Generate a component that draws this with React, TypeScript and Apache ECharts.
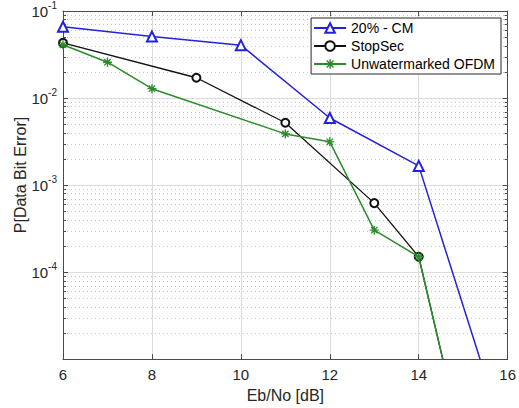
import React, { useEffect, useRef } from "react";
import * as echarts from "echarts";

// Eb/No values (dB) per series
const xCM = [6, 8, 10, 12, 14, 16];
const yCM = [0.066, 0.0508, 0.0405, 0.0059, 0.00166, 1e-6];

const xStop = [6, 9, 11, 13, 14, 15];
const yStop = [0.043, 0.0171, 0.0052, 6.2e-4, 1.5e-4, 1e-6];

const xOfdm = [6, 7, 8, 11, 12, 13, 14, 15];
const yOfdm = [0.0409, 0.0258, 0.0128, 0.00387, 0.00314, 3.03e-4, 1.5e-4, 1e-6];

const seriesNames = ["20% - CM", "StopSec", "Unwatermarked OFDM"];

// axis definitions
const xMin = 6;
const xMax = 16;
const xStep = 2;
const yMin = 1e-5;
const yMax = 1e-1;
const minorDecades = [1e-5, 1e-4, 1e-3, 1e-2];
const minorMultipliers = [2, 3, 4, 5, 6, 7, 8, 9];

const FONT = "'Liberation Sans', Arial, Helvetica, sans-serif";
const AXIS_COLOR = "#4a4a4a";
const TEXT_COLOR = "#262626";

const STAR_PATH =
  "path://M-1.5,-10 L1.5,-10 L1.5,10 L-1.5,10 Z " +
  "M-10,-1.5 L10,-1.5 L10,1.5 L-10,1.5 Z " +
  "M-6.01,-8.13 L8.13,6.01 L6.01,8.13 L-8.13,-6.01 Z " +
  "M-6.01,8.13 L-8.13,6.01 L6.01,-8.13 L8.13,-6.01 Z";

function zip(xs: number[], ys: number[]) {
  return xs.map((x, i) => [x, ys[i]]);
}

export default function App() {
  const ref = useRef<HTMLDivElement>(null);

  useEffect(() => {
    if (!ref.current) return;
    const chart = echarts.init(ref.current, null, { renderer: "svg" });

    const minorData: number[][] = [];
    minorDecades.forEach((d) =>
      minorMultipliers.forEach((m) => minorData.push([xMin, d * m]))
    );

    const yLabelFormatter = (v: number) => {
      const e = Math.round(Math.log10(v));
      if (e <= -5) return "";
      return `{b|10}{s|${e}}`;
    };

    const option: any = {
      animation: false,
      backgroundColor: "#ffffff",
      grid: { left: 63, right: 10, top: 10, bottom: 46, containLabel: false },
      legend: {
        data: seriesNames,
        orient: "vertical",
        right: 18,
        top: 18,
        backgroundColor: "#ffffff",
        borderColor: "#262626",
        borderWidth: 1,
        borderRadius: 0,
        padding: [3, 6, 3, 2],
        itemGap: 4,
        itemWidth: 32,
        itemHeight: 12,
        textStyle: { fontSize: 14, fontFamily: FONT, color: "#000" },
      },
      xAxis: [
        {
          type: "value",
          min: xMin,
          max: xMax,
          interval: xStep,
          name: "Eb/No [dB]",
          nameLocation: "middle",
          nameGap: 25,
          nameTextStyle: { fontSize: 16, fontFamily: FONT, color: TEXT_COLOR },
          axisLine: { show: true, lineStyle: { color: AXIS_COLOR, width: 1 } },
          axisTick: { show: true, inside: true, length: 5, lineStyle: { color: AXIS_COLOR } },
          axisLabel: { fontSize: 15, fontFamily: FONT, color: TEXT_COLOR, margin: 8 },
          splitLine: { show: true, lineStyle: { color: "#dcdcdc", width: 1 } },
        },
        {
          type: "value",
          position: "top",
          min: xMin,
          max: xMax,
          interval: xStep,
          axisLine: { show: true, lineStyle: { color: AXIS_COLOR, width: 1 } },
          axisTick: { show: true, inside: true, length: 5, lineStyle: { color: AXIS_COLOR } },
          axisLabel: { show: false },
          splitLine: { show: false },
        },
      ],
      yAxis: [
        {
          type: "log",
          logBase: 10,
          min: yMin,
          max: yMax,
          splitNumber: 4,
          axisLine: { show: true, lineStyle: { color: AXIS_COLOR, width: 1 } },
          axisTick: { show: true, inside: true, length: 5, lineStyle: { color: AXIS_COLOR } },
          axisLabel: {
            margin: 6,
            formatter: yLabelFormatter,
            rich: {
              b: { fontSize: 15, fontFamily: FONT, color: TEXT_COLOR },
              s: { fontSize: 10, fontFamily: FONT, color: TEXT_COLOR, padding: [0, 0, 12, 0] },
            },
          },
          splitLine: { show: true, lineStyle: { color: "#dcdcdc", width: 1 } },
        },
        {
          type: "log",
          logBase: 10,
          min: yMin,
          max: yMax,
          splitNumber: 4,
          position: "right",
          axisLine: { show: true, lineStyle: { color: AXIS_COLOR, width: 1 } },
          axisTick: { show: true, inside: true, length: 5, lineStyle: { color: AXIS_COLOR } },
          axisLabel: { show: false },
          splitLine: { show: false },
        },
      ],
      graphic: [
        {
          type: "text",
          x: 20,
          y: 175,
          rotation: Math.PI / 2,
          style: {
            text: "P[Data Bit Error]",
            fontSize: 16,
            fontFamily: FONT,
            fill: TEXT_COLOR,
            textAlign: "center",
            textVerticalAlign: "middle",
          },
        },
      ],
      series: [
        {
          name: "minor-grid",
          type: "custom",
          silent: true,
          z: 1,
          xAxisIndex: 0,
          yAxisIndex: 0,
          data: minorData,
          renderItem: (_params: any, api: any) => {
            const v = api.value(1);
            const p0 = api.coord([xMin, v]);
            const p1 = api.coord([xMax, v]);
            const y = Math.round(p0[1]) + 0.5;
            return {
              type: "group",
              children: [
                {
                  type: "line",
                  shape: { x1: p0[0], y1: y, x2: p1[0], y2: y },
                  style: { stroke: "#c4c4c4", lineWidth: 1, lineDash: [1, 3] },
                },
                {
                  type: "line",
                  shape: { x1: p0[0], y1: y, x2: p0[0] + 3, y2: y },
                  style: { stroke: AXIS_COLOR, lineWidth: 1 },
                },
                {
                  type: "line",
                  shape: { x1: p1[0] - 3, y1: y, x2: p1[0], y2: y },
                  style: { stroke: AXIS_COLOR, lineWidth: 1 },
                },
              ],
            };
          },
        },
        {
          name: seriesNames[0],
          type: "line",
          data: zip(xCM, yCM),
          symbol: "emptyTriangle",
          symbolSize: 10,
          color: "#2222dd",
          lineStyle: { width: 1.5, color: "#2222dd" },
          itemStyle: { color: "#2222dd", borderWidth: 1.3 },
          z: 3,
        },
        {
          name: seriesNames[1],
          type: "line",
          data: zip(xStop, yStop),
          symbol: "emptyCircle",
          symbolSize: 8,
          color: "#111111",
          lineStyle: { width: 1.3, color: "#111111" },
          itemStyle: { color: "#111111", borderWidth: 1.3 },
          z: 4,
        },
        {
          name: seriesNames[2],
          type: "line",
          data: zip(xOfdm, yOfdm),
          symbol: STAR_PATH,
          symbolSize: 9,
          color: "#2a8c2a",
          lineStyle: { width: 1.5, color: "#2a8c2a" },
          itemStyle: { color: "#2a8c2a" },
          z: 5,
        },
      ],
    };

    chart.setOption(option);
    return () => chart.dispose();
  }, []);

  return (
    <div
      ref={ref}
      style={{ position: "fixed", left: 0, top: 0, width: 519, height: 408, background: "#fff" }}
    />
  );
}
